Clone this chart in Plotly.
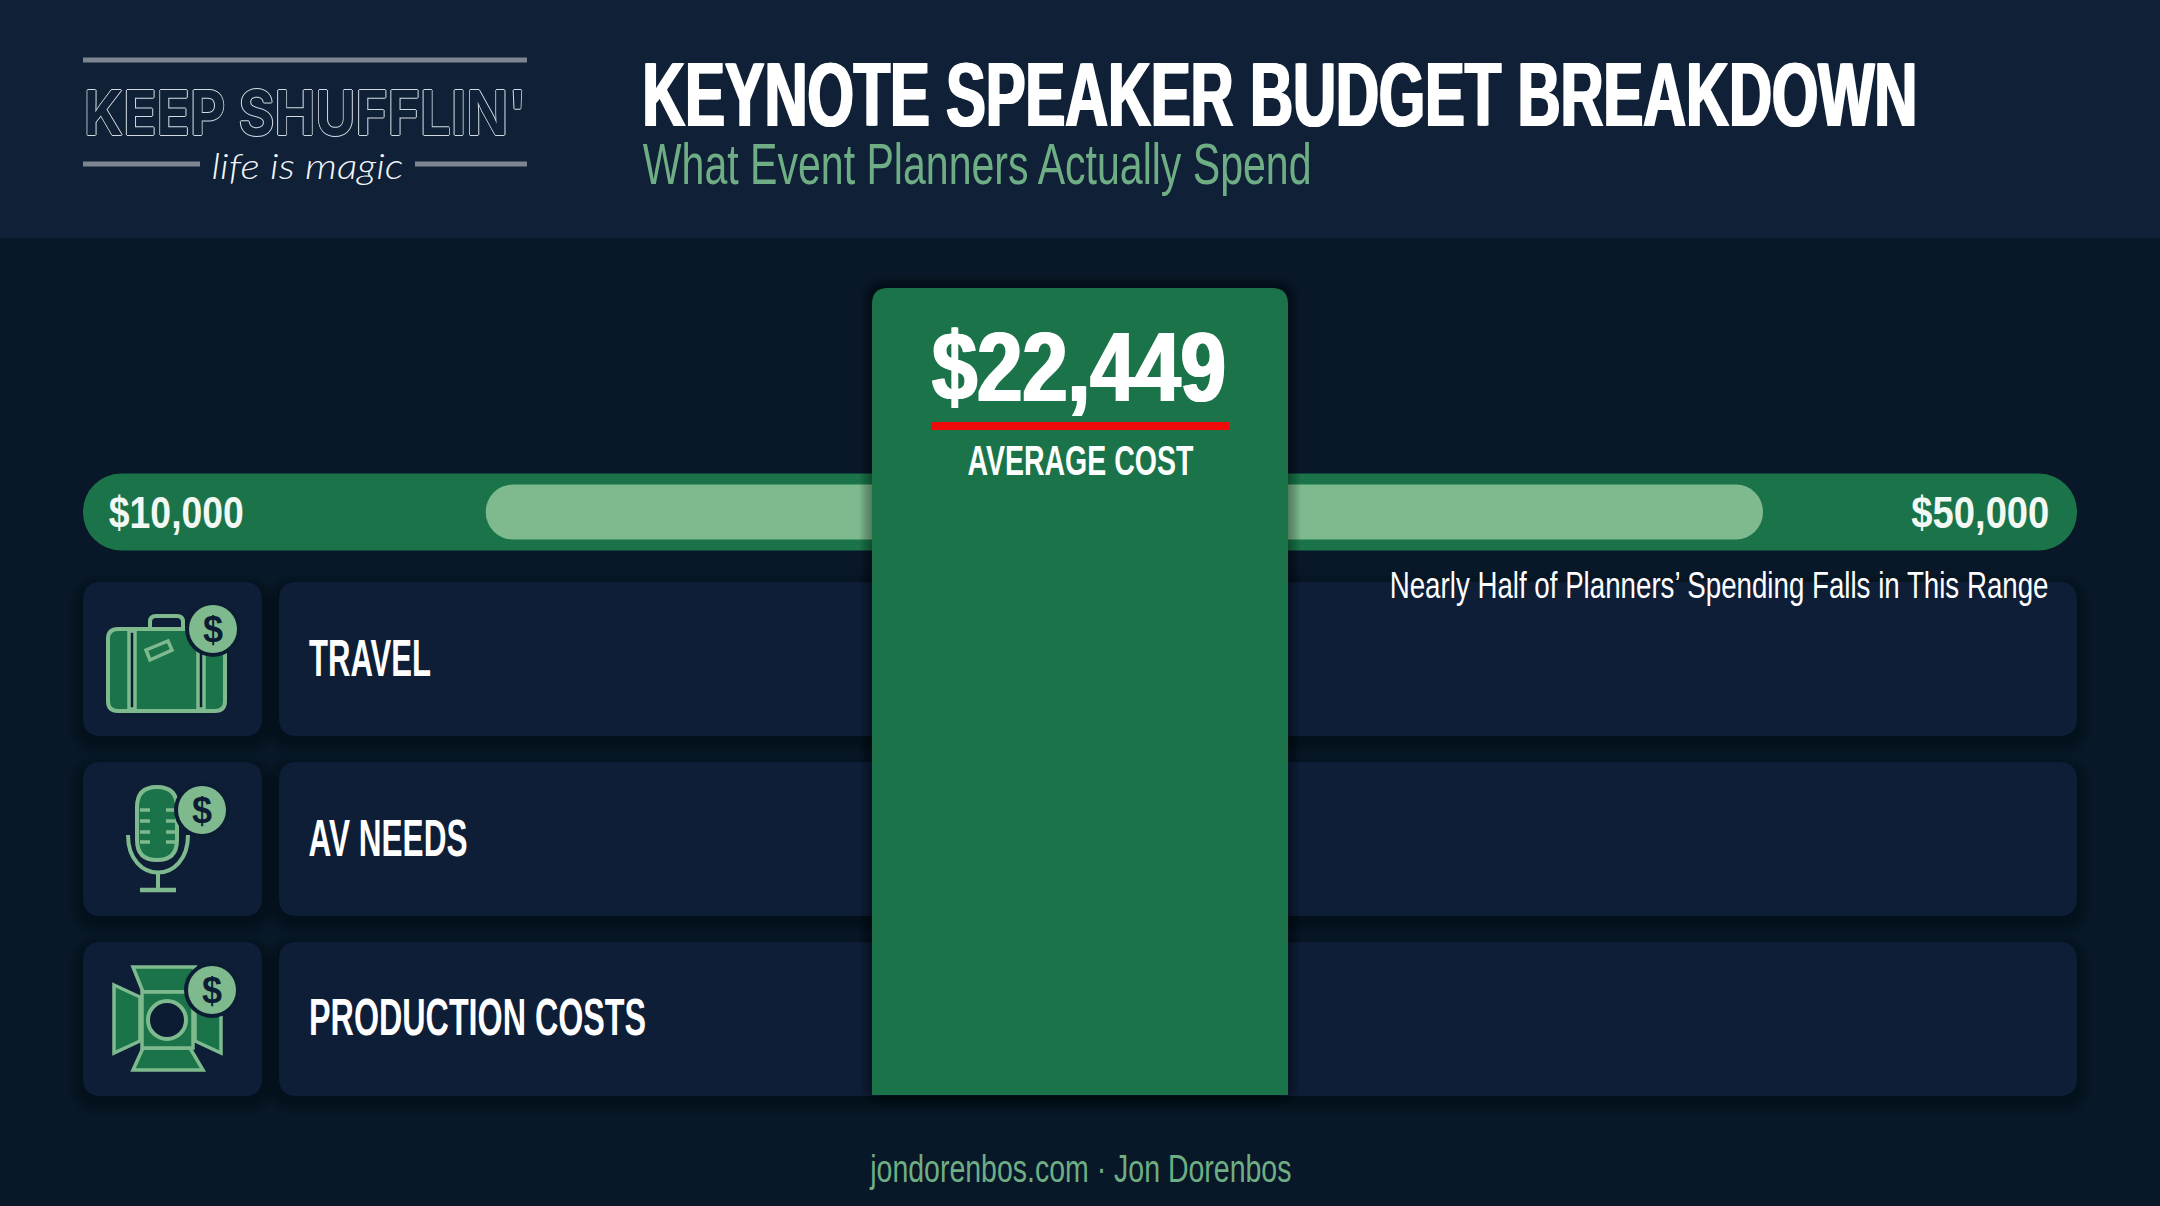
import json
import plotly.graph_objects as go

# values
track_limits = [10000, 50000]
range_limits = [18080, 43700]
average_cost = 22449
track_labels = ["$10,000", "$50,000"]
categories = ["TRAVEL", "AV NEEDS", "PRODUCTION COSTS"]

title = "KEYNOTE SPEAKER BUDGET BREAKDOWN"
subtitle = "What Event Planners Actually Spend"
range_note = "Nearly Half of Planners’ Spending Falls in This Range"
average_label = "AVERAGE COST"
footer = "jondorenbos.com · Jon Dorenbos"
logo = "KEEP SHUFFLIN'"
tagline = "life is magic"

W, H = 2160, 1206
BG = "#091828"
HEADER = "#0f2037"
ROW = "#0e1e37"
GREEN = "#1b7449"
LIGHT = "#7fba8f"
SOFT = "#6fae85"
DARK = "#0c1d33"
NARROW = "Liberation Sans"


def rrect(x0, y0, x1, y1, r):
    return (f"M {x0+r},{y0} H {x1-r} Q {x1},{y0} {x1},{y0+r} V {y1-r} Q {x1},{y1} {x1-r},{y1} "
            f"H {x0+r} Q {x0},{y1} {x0},{y1-r} V {y0+r} Q {x0},{y0} {x0+r},{y0} Z")


def poly(pts):
    return "M " + " L ".join(f"{x},{y}" for x, y in pts) + " Z"


def path(d, fill="rgba(0,0,0,0)", line=None, lw=0, layer="above", opacity=1):
    return dict(type="path", path=d, xref="x", yref="y", fillcolor=fill, layer=layer, opacity=opacity,
                line=dict(color=line or "rgba(0,0,0,0)", width=lw))


def circle(cx, cy, r, fill, line=None, lw=0):
    return dict(type="circle", x0=cx-r, x1=cx+r, y0=cy-r, y1=cy+r, xref="x", yref="y", fillcolor=fill,
                layer="above", line=dict(color=line or "rgba(0,0,0,0)", width=lw))


def shadow(x0, y0, x1, y1, r, spread=14, dy=6, layer="below", alpha=0.035):
    return [path(rrect(x0-i, y0-i+dy, x1+i, y1+i+dy, r+i), fill=f"rgba(0,0,0,{alpha})", layer=layer)
            for i in range(spread, 0, -2)]


def badge(cx, cy):
    return [circle(cx, cy, 28, DARK), circle(cx, cy, 24, LIGHT)]


shapes = [path(f"M 0,0 H {W} V 238 H 0 Z", fill=HEADER, layer="below")]

# logo rules
for x0, x1, y in [(83, 527, 60), (83, 200, 164), (415, 527, 164)]:
    shapes.append(path(f"M {x0},{y-2.5} H {x1} V {y+2.5} H {x0} Z", fill="#7d8590", layer="below"))

# category rows
tile_tops = [582, 762, 942]
tile_h = 154
for top in tile_tops:
    for x0, x1 in [(83, 262), (279, 2077)]:
        shapes += shadow(x0, top, x1, top + tile_h, 18)
        shapes.append(path(rrect(x0, top, x1, top + tile_h, 18), fill=ROW, layer="below"))

# suitcase
shapes += [
    path(rrect(150, 616, 183, 640, 6), line=LIGHT, lw=4),
    path(rrect(108, 629, 225, 711, 10), fill=GREEN, line=LIGHT, lw=4),
    path("M 129,631 H 135 V 709 H 129 Z", fill=DARK, line=LIGHT, lw=3.5),
    path("M 198,631 H 204 V 709 H 198 Z", fill=DARK, line=LIGHT, lw=3.5),
    path(poly([(146, 650), (168, 641), (172, 650), (150, 660)]), fill=GREEN, line=LIGHT, lw=3.5),
]
shapes += badge(213, 629)

# microphone
shapes += [
    path("M 128,835 C 128,885 188,885 188,835", line=LIGHT, lw=4),
    path("M 158,872 V 890", line=LIGHT, lw=4),
    path("M 140,890 H 176", line=LIGHT, lw=4.5),
    path(rrect(137, 787, 177, 860, 20), fill=GREEN, line=LIGHT, lw=4),
]
for y in [810, 821, 832, 842]:
    shapes += [path(f"M 140,{y} H 150", line=LIGHT, lw=3.5), path(f"M 166,{y} H 175", line=LIGHT, lw=3.5)]
shapes += badge(202, 810)

# barn door light
for pts in [[(133, 967), (195, 967), (188, 992), (143, 992)],
            [(143, 1048), (190, 1048), (203, 1070), (133, 1070)],
            [(114, 985), (140, 997), (140, 1041), (114, 1053)],
            [(195, 997), (221, 985), (221, 1053), (195, 1041)],
            [(142, 992), (193, 992), (193, 1048), (142, 1048)]]:
    shapes.append(path(poly(pts), fill=GREEN, line=LIGHT, lw=3.5))
shapes.append(circle(167, 1020, 19, DARK, line=LIGHT, lw=4))
shapes += badge(212, 990)

# centre panel sits over the track and the rows
shapes += shadow(872, 288, 1288, 1095, 16, spread=12, dy=0, layer="above", alpha=0.06)
shapes.append(path("M 872,1095 V 304 Q 872,288 888,288 H 1272 Q 1288,288 1288,304 V 1095 Z", fill=GREEN))
shapes.append(path("M 931,422 H 1229 V 430 H 931 Z", fill="#f00a0a"))


def note(text, x, y, size, color="#ffffff", weight=400, family=NARROW, **kw):
    return dict(text=text, x=x, y=y, xref="x", yref="y", xanchor="center", yanchor="middle", showarrow=False,
                borderpad=0, font=dict(family=family, size=size, color=color, weight=weight, **kw))


fit_widths = {
    title: 1275, subtitle: 669, track_labels[0]: 135, track_labels[1]: 138, range_note: 659,
    f"${average_cost:,}": 294, average_label: 226, footer: 422,
    categories[0]: 122, categories[1]: 159, categories[2]: 337, logo: 443, tagline: 192,
}

# thin strokes: the logo is outlined, the big bold lines are a little heavier than Liberation
outline = ",".join(f"{a}px {b}px 0 #d3dbe0" for a, b in [(1, 0), (-1, 0), (0, 1), (0, -1)])
heavy = "1.5px 0 0 #fff,-1.5px 0 0 #fff"
annotations = [
    note(title, 1280, 94, 91, weight=700, shadow=heavy),
    note(subtitle, 977, 164, 57, color=SOFT),
    note(track_labels[0], 176, 512, 45, color="#f2f8f4", weight=700),
    note(track_labels[1], 1980, 512, 45, color="#f2f8f4", weight=700),
    note(range_note, 1719, 585, 37),
    note(f"${average_cost:,}", 1079, 366, 99, weight=700, shadow=heavy),
    note(average_label, 1080, 460, 43, weight=700),
    note(footer, 1080, 1169, 38, color=SOFT),
    note(logo, 305, 112, 62, color=HEADER, weight=700, family="Inter", shadow=outline),
    note(tagline, 307, 165, 36, color="#f4f6f8", weight=300, family="Lato", style="italic"),
    note(categories[0], 370, 658, 52, weight=700),
    note(categories[1], 388, 838, 52, weight=700),
    note(categories[2], 477, 1017, 52, weight=700),
]
for cx, cy in [(213, 629), (202, 810), (212, 990)]:
    annotations.append(note("$", cx, cy, 36, color=DARK, weight=700, family="Liberation Sans"))

# track and range, both drawn outward from the middle of the track so both ends round
mid = sum(track_limits) / 2
fig = go.Figure()
fig.add_trace(go.Bar(y=[512, 512], x=[v - mid for v in track_limits], base=mid, orientation="h", width=77,
                     marker=dict(color=GREEN, cornerradius=38, line_width=0), xaxis="x2", yaxis="y",
                     hoverinfo="skip", showlegend=False))
fig.add_trace(go.Bar(y=[512, 512], x=[v - mid for v in range_limits], base=mid, orientation="h", width=55,
                     marker=dict(color=LIGHT, cornerradius=27, line_width=0), xaxis="x2", yaxis="y",
                     hoverinfo="skip", showlegend=False))

fig.update_layout(
    width=W, height=H, margin=dict(l=0, r=0, t=0, b=0), autosize=False, barmode="overlay",
    paper_bgcolor=BG, plot_bgcolor="rgba(0,0,0,0)", shapes=shapes, annotations=annotations,
    xaxis=dict(range=[0, W], visible=False, fixedrange=True),
    xaxis2=dict(range=track_limits, domain=[83 / W, 2077 / W], anchor="y", visible=False, fixedrange=True),
    yaxis=dict(range=[H, 0], visible=False, fixedrange=True),
)

# the reference face is narrower than any installed one, so squeeze each line to its measured width
squeeze = """
document.body.style.margin = '0';
document.body.style.overflow = 'hidden';
var fit = %s;
function applyFit() {
  document.querySelectorAll('.annotation-text').forEach(function (t) {
    var w = fit[t.textContent];
    if (!w || t.getAttribute('transform')) return;
    var b = t.getBBox();
    var cx = b.x + b.width / 2;
    t.setAttribute('transform', 'translate(' + cx + ',0) scale(' + (w / b.width) + ',1) translate(' + (-cx) + ',0)');
  });
}
applyFit();
""" % json.dumps(fit_widths)

fig.write_html("out.html", post_script=squeeze, config=dict(displayModeBar=False))
